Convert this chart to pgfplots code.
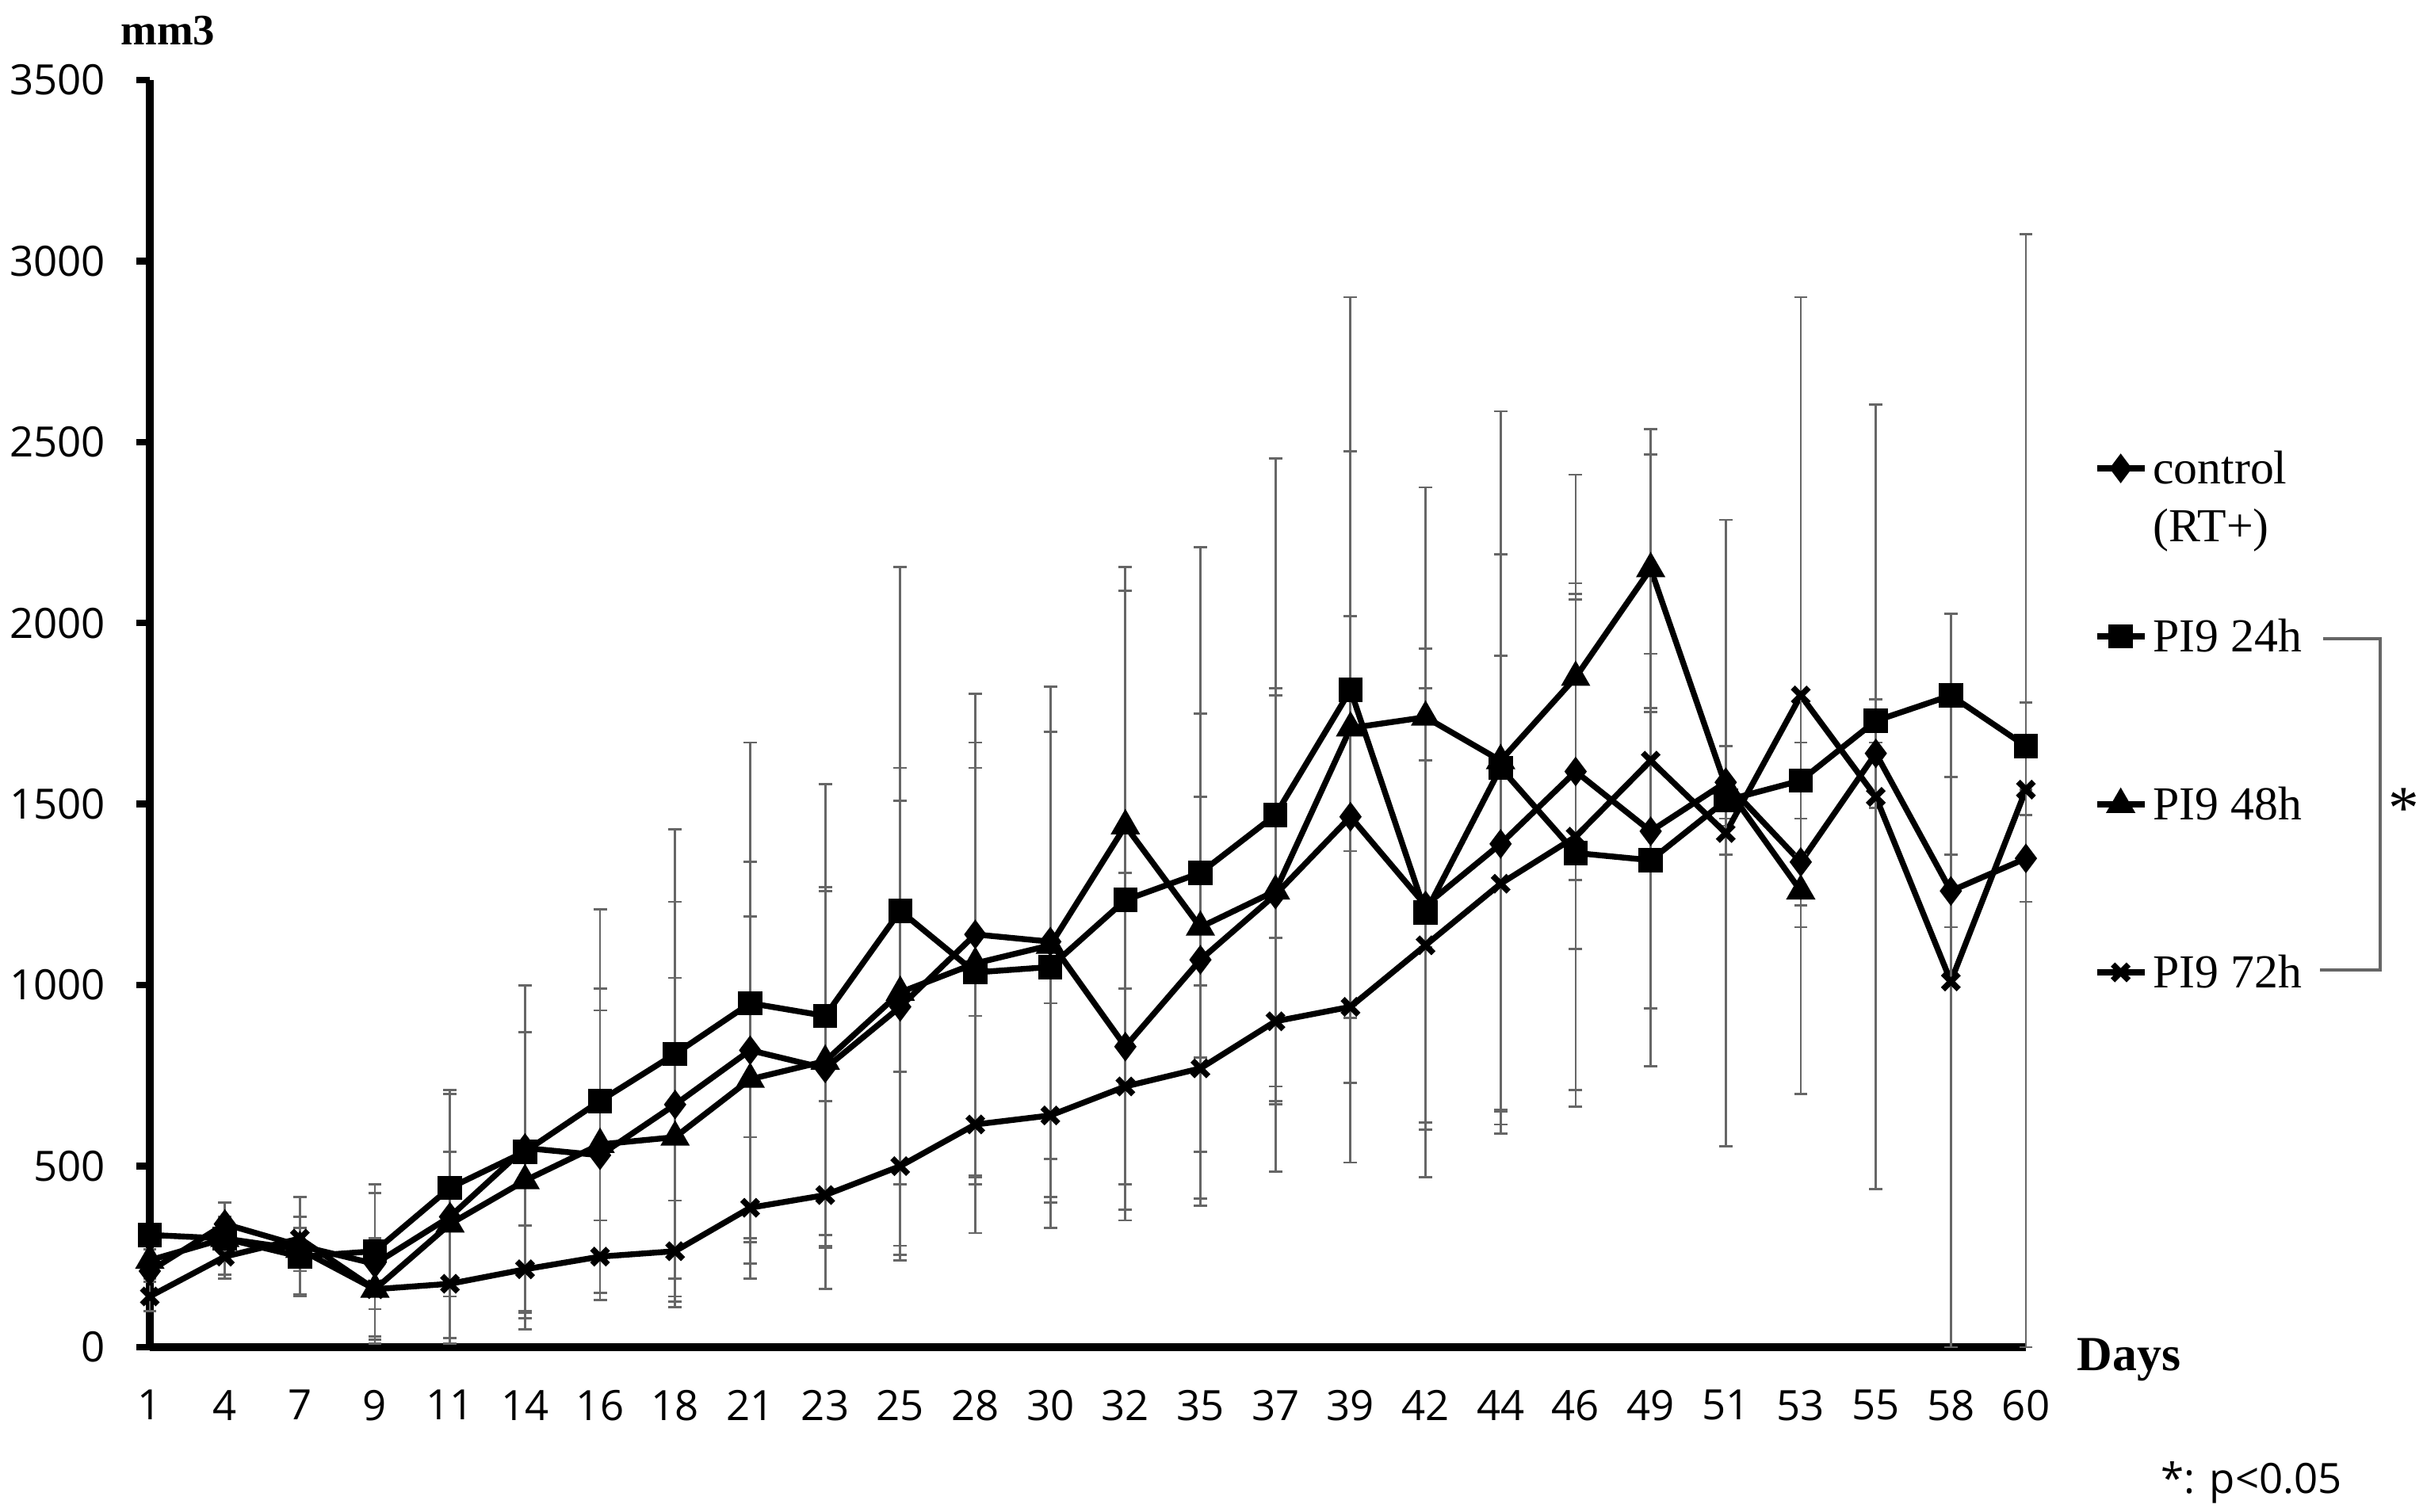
\documentclass[border=0pt]{standalone}
\usepackage{fontspec}
\setmainfont{Liberation Serif}
\newfontfamily\ticksans{Open Sans}
\usepackage{pgfplots}
\pgfplotsset{compat=1.18}
\usepackage{pgfplotstable}

\pgfplotstableread{
x y ep em
0 210 60 60
1 340 60 60
2 280 135 135
3 230 220 220
4 360 350 350
5 550 450 450
6 530 400 400
7 670 560 560
8 820 520 520
9 770 490 490
10 940 660 660
11 1140 665 665
12 1120 705 705
13 830 480 480
14 1070 680 680
15 1250 570 570
16 1465 555 555
17 1220 600 600
18 1390 800 800
19 1590 490 490
20 1425 490 490
21 1560 100 100
22 1340 120 120
23 1640 150 150
24 1260 100 100
25 1350 120 120
}\ctrl

\pgfplotstableread{
x y ep em
0 310 30 30
1 300 100 100
2 250 110 110
3 265 160 160
4 440 260 260
5 540 460 460
6 680 530 530
7 810 620 620
8 950 720 720
9 915 640 640
10 1205 950 950
11 1035 565 565
12 1050 650 650
13 1235 855 855
14 1310 900 900
15 1470 985 985
16 1815 1085 1085
17 1200 730 730
18 1600 985 985
19 1365 700 700
20 1345 410 410
21 1510 150 150
22 1565 105 105
23 1730 60 60
24 1800 225 225
25 1660 120 120
}\pia

\pgfplotstableread{
x y ep em
0 240 50 50
1 300 60 60
2 270 60 60
3 160 140 140
4 340 200 200
5 460 410 410
6 560 430 430
7 580 440 440
8 740 450 450
9 790 480 480
10 980 530 530
11 1060 610 610
12 1110 590 590
13 1440 715 715
14 1160 360 360
15 1260 540 540
16 1710 765 765
17 1740 635 635
18 1620 965 965
19 1850 560 560
20 2150 385 385
21 1550 110 110
22 1260 100 100
}\pib

\pgfplotstableread{
x y ep em
0 140 40 40
1 250 60 60
2 300 60 60
3 160 130 130
4 175 150 150
5 215 120 120
6 250 100 100
7 265 140 140
8 385 195 195
9 420 260 260
10 500 260 260
11 615 300 300
12 640 310 310
13 720 270 270
14 770 230 230
15 900 230 230
16 940 430 430
17 1110 510 510
18 1280 630 630
19 1410 700 700
20 1620 845 845
21 1420 865 865
22 1800 1100 1100
23 1520 1083 1083
24 1010 1015 1010
25 1540 1535 1540
}\pic

\begin{document}
\begin{tikzpicture}
\path[use as bounding box] (-0.945cm,-1.04cm) rectangle (14.34cm,8.5cm);
\begin{axis}[
  at={(0cm,0cm)}, anchor=south west,
  scale only axis, width=11.835cm, height=7.995cm,
  xmin=0, xmax=25, ymin=0, ymax=3500,
  clip=false,
  axis lines*=left,
  axis line style={line width=1.4pt, black},
  xtick={0,...,25},
  xticklabels={1,4,7,9,11,14,16,18,21,23,25,28,30,32,35,37,39,42,44,46,49,51,53,55,58,60},
  ytick={0,500,...,3500},
  tick align=outside,
  major tick length=0.085cm,
  xtick style={draw=none},
  ytick style={line width=1.2pt, black},
  ticklabel style={font=\ticksans\fontsize{7.5}{9}\selectfont},
  xticklabel style={anchor=north, inner sep=0pt, yshift=-0.18cm},
  yticklabel style={anchor=east, inner sep=0pt, xshift=-0.19cm},
  /pgf/number format/assume math mode=true,
  /pgf/number format/1000 sep={},
  legend image code/.code={\draw[#1, mark repeat=2, mark phase=2] plot coordinates {(0cm,2.7pt) (0.15cm,2.7pt) (0.3cm,2.7pt)};},
  legend style={
    at={(axis description cs:1.0363,0.708)}, anchor=north west,
    draw=none, fill=none, inner sep=0pt, outer sep=0pt,
    row sep=11.76pt, column sep=1pt,
    font=\fontsize{8.5}{10.4}\selectfont,
    nodes={text height=6pt, text depth=12.4pt, inner sep=0pt},
    cells={anchor=base west},
  },
  every axis plot/.append style={black, line width=1.05pt},
  error bars/error bar style={line width=0.4pt, black!60, solid},
  error bars/error mark options={rotate=90, mark size=1.2pt, line width=0.4pt, black!60},
]
\addplot[mark=diamond*, mark size=1.8pt, error bars/.cd, y dir=both, y explicit]
  table[x=x, y=y, y error plus=ep, y error minus=em] {\ctrl};
\addlegendentry{\vtop{\hbox{control}\hbox{(RT+)}}}
\addplot[mark=square*, mark size=1.65pt, error bars/.cd, y dir=both, y explicit]
  table[x=x, y=y, y error plus=ep, y error minus=em] {\pia};
\addlegendentry{PI9 24h}
\addplot[mark=triangle*, mark size=2pt, error bars/.cd, y dir=both, y explicit]
  table[x=x, y=y, y error plus=ep, y error minus=em] {\pib};
\addlegendentry{PI9 48h}
\addplot[mark=x, mark size=2pt, error bars/.cd, y dir=both, y explicit]
  table[x=x, y=y, y error plus=ep, y error minus=em] {\pic};
\addlegendentry{PI9 72h}
\end{axis}
\draw[line width=0.5pt, black!60] (13.71cm,4.47cm) -- (14.07cm,4.47cm) -- (14.07cm,2.38cm) -- (13.69cm,2.38cm);
\node[font=\fontsize{11}{12}\selectfont, inner sep=0pt] at (14.22cm,3.40cm) {*};
\node[anchor=base west, inner sep=0pt, font=\ticksans\fontsize{7.5}{9}\selectfont] at (12.68cm,-0.925cm) {*: p<0.05};
\node[anchor=base, inner sep=0pt, font=\bfseries\fontsize{8.8}{10}\selectfont] at (12.485cm,-0.15cm) {Days};
\node[anchor=base, inner sep=0pt, font=\bfseries\fontsize{7.8}{9}\selectfont] at (0.115cm,8.215cm) {mm3};
\end{tikzpicture}
\end{document}
